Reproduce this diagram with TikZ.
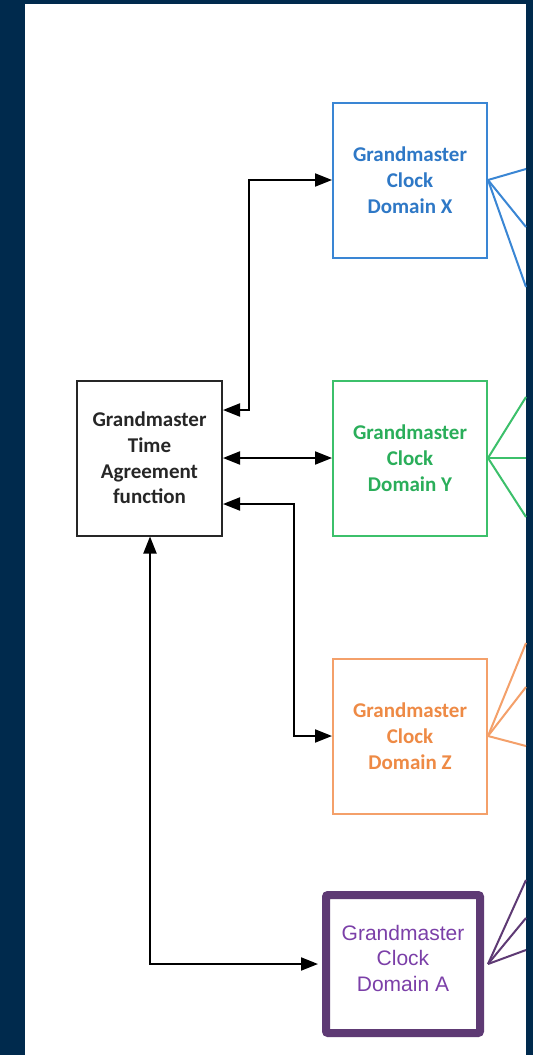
\documentclass[tikz,border=0pt]{standalone}
\usepackage{fontspec}
\setmainfont{Carlito}
\newfontfamily\arialfont{Liberation Sans}
\usetikzlibrary{arrows.meta}
\definecolor{navy}{HTML}{002A4D}
\definecolor{clkblue}{HTML}{3A86D4}
\definecolor{txtblue}{HTML}{2E78C6}
\definecolor{clkgreen}{HTML}{3CC06B}
\definecolor{txtgreen}{HTML}{2AAE5A}
\definecolor{clkorange}{HTML}{F4A06A}
\definecolor{txtorange}{HTML}{EE8A45}
\definecolor{clkpurple}{HTML}{5E3A74}
\definecolor{txtpurple}{HTML}{7B3FA8}
\definecolor{ink}{HTML}{262626}
\tikzset{
  clockbox/.style={draw=#1, line width=2pt, minimum width=154pt, minimum height=155pt,
    align=center, font=\fontsize{21}{25.8}\selectfont\bfseries, inner sep=0pt},
  link/.style={line width=2pt, draw=black},
  fan/.style={line width=2pt, draw=#1},
  both tips/.style={{Triangle[length=17pt,width=13pt]}-{Triangle[length=17pt,width=13pt]}},
}
\begin{document}
\begin{tikzpicture}[x=1pt,y=-1pt]
  % backdrop and white panel
  \fill[navy] (0,0) rectangle (533,1055);
  \fill[white] (25,4) rectangle (526,1055);
  \useasboundingbox (0,0) rectangle (533,1055);

  % boxes
  \node[clockbox=ink, text=ink, minimum width=145pt] (gta) at (149.5,458)
    {Grandmaster\\Time\\Agreement\\function};
  \node[clockbox=clkblue, text=txtblue] (dx) at (410,180) {Grandmaster\\Clock\\Domain X};
  \node[clockbox=clkgreen, text=txtgreen] (dy) at (410,458) {Grandmaster\\Clock\\Domain Y};
  \node[clockbox=clkorange, text=txtorange] (dz) at (410,736) {Grandmaster\\Clock\\Domain Z};
  \node[draw=clkpurple, line width=8pt, rounded corners=2pt, minimum width=154pt, minimum height=138pt,
    inner sep=0pt] (da) at (403,964) {};
  \node[text=txtpurple, align=center, inner sep=0pt,
    font=\arialfont\fontsize{21}{25.5}\selectfont] (dalabel) at ([yshift=6pt]da.center)
    {Grandmaster\\Clock\\Domain A};

  % bends of the connectors
  \coordinate (bx) at (249,180);
  \coordinate (bz) at (294,504);
  \coordinate (ba) at (150,964);

  % connectors
  \draw[link, both tips] (gta.east |- 0,410) -| (bx) -- (dx.west);
  \draw[link, both tips] (gta.east) -- (dy.west);
  \draw[link, both tips] (gta.east |- bz) -- (bz) |- (dz.west);
  \draw[link, both tips] (gta.south -| ba) -- (ba) -- ([xshift=-4pt]da.west);

  % fan-out lines leaving to the right
  \coordinate (ex1) at (526,169); \coordinate (ex2) at (526,227); \coordinate (ex3) at (526,287);
  \coordinate (ey1) at (526,397); \coordinate (ey2) at (526,458); \coordinate (ey3) at (526,517);
  \coordinate (ez1) at (526,643); \coordinate (ez2) at (526,687); \coordinate (ez3) at (526,746);
  \coordinate (ea1) at (526,880); \coordinate (ea2) at (526,918); \coordinate (ea3) at (526,950);
  \foreach \e in {ex1,ex2,ex3} \draw[fan=clkblue] (dx.east) -- (\e);
  \foreach \e in {ey1,ey2,ey3} \draw[fan=clkgreen] (dy.east) -- (\e);
  \foreach \e in {ez1,ez2,ez3} \draw[fan=clkorange] (dz.east) -- (\e);
  \foreach \e in {ea1,ea2,ea3} \draw[fan=clkpurple] ([xshift=4pt]da.east) -- (\e);
\end{tikzpicture}
\end{document}
